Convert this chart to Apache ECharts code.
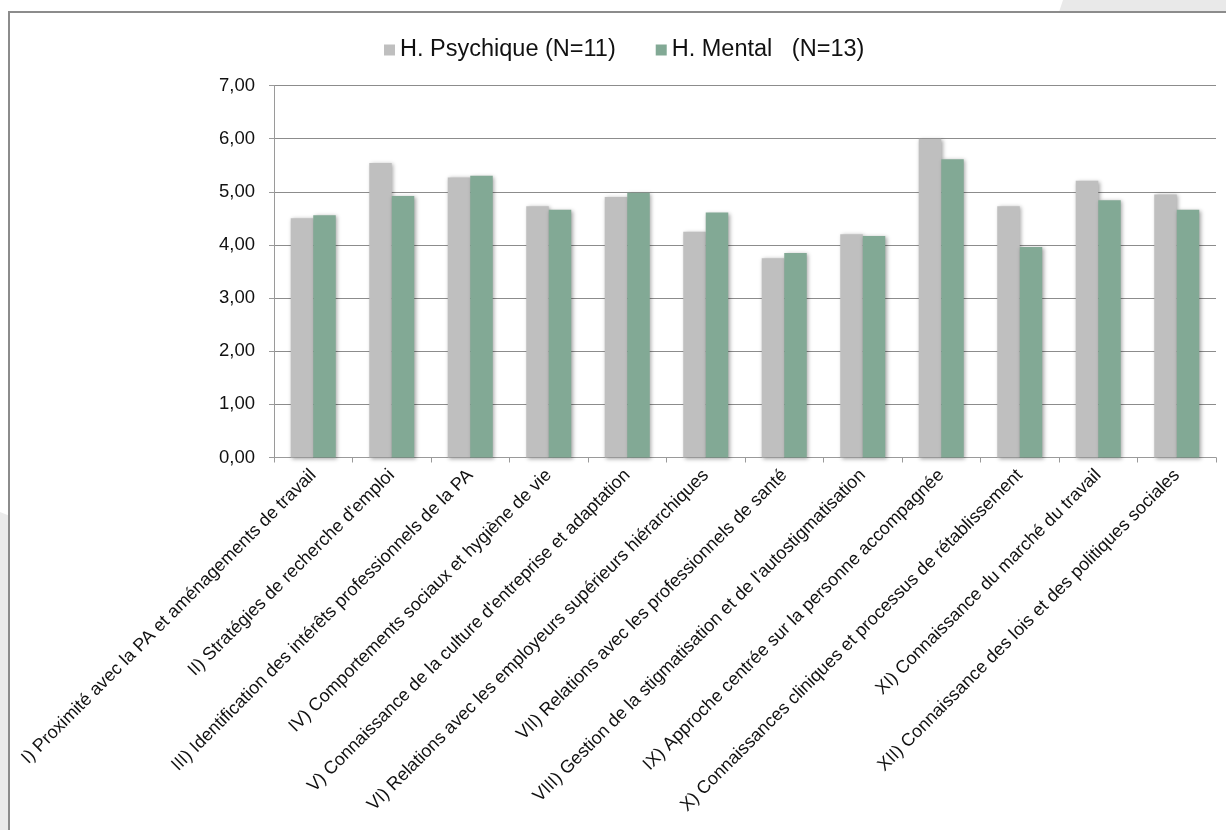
<!DOCTYPE html>
<html>
<head>
<meta charset="utf-8">
<script src="https://cdn.jsdelivr.net/npm/echarts@6/dist/echarts.min.js"></script>
<style>
  html, body { margin: 0; padding: 0; background: #ffffff; }
  #chart { width: 1226px; height: 830px; }
</style>
</head>
<body>
<div id="chart"></div>
<script>
// Competency areas (x axis)
const categories = [
  "I) Proximité avec la PA et aménagements de travail",
  "II) Stratégies de recherche d'emploi",
  "III) Identification des intérêts professionnels de la PA",
  "IV) Comportements sociaux et hygiène de vie",
  "V) Connaissance de la culture d'entreprise et adaptation",
  "VI) Relations avec les employeurs supérieurs hiérarchiques",
  "VII) Relations avec les professionnels de santé",
  "VIII) Gestion de la stigmatisation et de l'autostigmatisation",
  "IX) Approche centrée sur la personne accompagnée",
  "X) Connaissances cliniques et processus de rétablissement",
  "XI) Connaissance du marché du travail",
  "XII) Connaissance des lois et des politiques sociales"
];

// Mean scores per group
const psychique = [4.50, 5.54, 5.27, 4.73, 4.90, 4.25, 3.75, 4.20, 6.00, 4.73, 5.21, 4.95];
const mental    = [4.56, 4.92, 5.30, 4.66, 4.98, 4.61, 3.85, 4.17, 5.61, 3.96, 4.84, 4.66];

const seriesNames = ["H. Psychique (N=11)", "H. Mental   (N=13)"];

const font = "'Liberation Sans', Arial, sans-serif";
const chart = echarts.init(document.getElementById('chart'), null, { renderer: 'canvas' });

const barShadow = {
  shadowBlur: 4,
  shadowColor: 'rgba(0,0,0,0.35)',
  shadowOffsetX: 1.5,
  shadowOffsetY: 1
};

chart.setOption({
  animation: false,
  backgroundColor: '#ffffff',
  graphic: [
    // slide background accents
    { type: 'polygon', z: -10, silent: true,
      shape: { points: [[1063, 0], [1226, 0], [1226, 12], [1059, 12]] },
      style: { fill: '#e9e9e9' } },
    { type: 'polygon', z: -10, silent: true,
      shape: { points: [[0, 512], [10, 516], [10, 830], [0, 830]] },
      style: { fill: '#ebebeb' } },
    // chart frame
    { type: 'rect', z: -5, silent: true,
      shape: { x: 9, y: 12, width: 1240, height: 840 },
      style: { fill: 'rgba(0,0,0,0)', stroke: '#8c8c8c', lineWidth: 2 } }
  ],
  legend: {
    top: 33,
    left: 379,
    itemWidth: 11,
    itemHeight: 11,
    itemGap: 40,
    icon: 'rect',
    textStyle: { fontFamily: font, fontSize: 23.5, color: '#111', padding: [0, 0, 0, 0] },
    data: seriesNames
  },
  grid: {
    left: 274,
    right: 10,
    top: 85.5,
    bottom: 372.5,
    containLabel: false
  },
  xAxis: {
    type: 'category',
    data: categories,
    axisLine: { lineStyle: { color: '#9a9a9a', width: 1 } },
    axisTick: { show: true, length: 5, lineStyle: { color: '#9a9a9a' } },
    axisLabel: {
      interval: 0,
      rotate: 45,
      margin: 15,
      fontFamily: font,
      fontSize: 18,
      color: '#111'
    },
    splitLine: { show: false }
  },
  yAxis: {
    type: 'value',
    min: 0,
    max: 7,
    interval: 1,
    axisLine: { show: true, lineStyle: { color: '#9a9a9a', width: 1 } },
    axisTick: { show: true, length: 5, lineStyle: { color: '#9a9a9a' } },
    axisLabel: {
      margin: 19,
      fontFamily: font,
      fontSize: 18.5,
      color: '#111',
      formatter: v => v.toFixed(2).replace('.', ',')
    },
    splitLine: { show: true, lineStyle: { color: '#8c8c8c', width: 1 } }
  },
  series: [
    {
      name: seriesNames[0],
      type: 'bar',
      data: psychique,
      barWidth: 22.5,
      barGap: '0%',
      itemStyle: Object.assign({ color: '#bfbfbf' }, barShadow)
    },
    {
      name: seriesNames[1],
      type: 'bar',
      data: mental,
      barWidth: 22.5,
      barGap: '0%',
      itemStyle: Object.assign({ color: '#82a995' }, barShadow)
    }
  ]
});
</script>
</body>
</html>
